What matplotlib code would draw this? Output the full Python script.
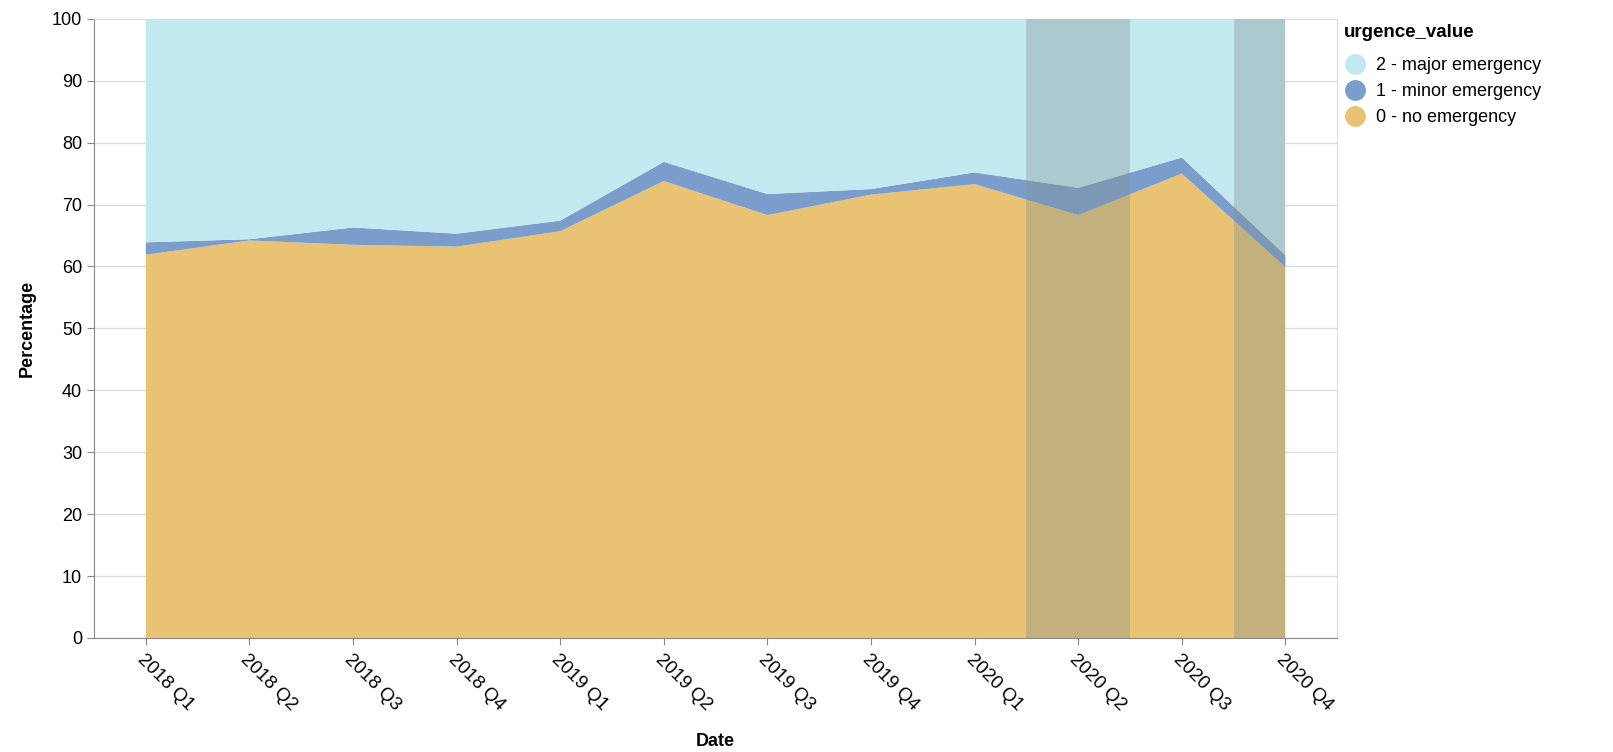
#!/usr/bin/env python
# -*- coding: utf-8 -*-

"""Stacked share of emergency levels per quarter."""

import matplotlib.pyplot as plt
from matplotlib.lines import Line2D

quarters = ["2018 Q1", "2018 Q2", "2018 Q3", "2018 Q4",
            "2019 Q1", "2019 Q2", "2019 Q3", "2019 Q4",
            "2020 Q1", "2020 Q2", "2020 Q3", "2020 Q4"]
no_emergency = [61.9, 64.2, 63.5, 63.2, 65.7, 73.8, 68.3, 71.6, 73.3, 68.3, 75.0, 59.9]
minor_emergency = [2.0, 0.2, 2.8, 2.1, 1.7, 3.1, 3.4, 0.9, 1.9, 4.4, 2.6, 1.9]
major_emergency = [100 - a - b for a, b in zip(no_emergency, minor_emergency)]
shaded = [("2020 Q1", "2020 Q2"), ("2020 Q3", "2020 Q4")]

labels = ["2 - major emergency", "1 - minor emergency", "0 - no emergency"]
colors = ["#c3e9f0", "#7b9dcc", "#e9c373"]


def main():
    plt.rcParams["font.family"] = ["Liberation Sans", "DejaVu Sans"]
    fig = plt.figure(figsize=(16.13, 7.52), dpi=100)
    ax = fig.add_axes([0.0583, 0.1516, 0.7707, 0.8234])

    x = list(range(len(quarters)))
    ax.stackplot(x, no_emergency, minor_emergency, major_emergency,
                 colors=colors[::-1], linewidth=0, zorder=2)

    last = len(quarters) - 1
    for a, b in shaded:
        x0 = quarters.index(a) + 0.5
        x1 = min(quarters.index(b) + 0.5, last)
        ax.axvspan(x0, x1, color="#7f8f8f", alpha=0.35, lw=0, zorder=3)

    ax.set_xlim(-0.5, len(quarters) - 0.5)
    ax.set_ylim(0, 100)
    ax.set_yticks(range(0, 101, 10))
    ax.set_xticks(x)
    ax.set_xticklabels(quarters, rotation=-45, ha="left", va="top",
                       rotation_mode="anchor", fontsize=13.5)
    ax.tick_params(axis="y", labelsize=13, length=5, color="#888888")
    ax.tick_params(axis="x", length=5, color="#888888", pad=4)
    ax.grid(axis="y", color="#dddddd", lw=1, zorder=1)
    ax.set_axisbelow(True)

    for side in ("top", "right"):
        ax.spines[side].set_color("#dddddd")
    for side in ("left", "bottom"):
        ax.spines[side].set_color("#888888")

    ax.set_xlabel("Date", fontsize=13, fontweight="bold", labelpad=14)
    ax.set_ylabel("Percentage", fontsize=13, fontweight="bold", labelpad=12)

    handles = [Line2D([], [], ls="", marker="o", ms=14, color=c) for c in colors]
    leg = fig.legend(handles, labels, loc="upper left",
                     bbox_to_anchor=(0.823, 0.99), frameon=False,
                     fontsize=13, title="urgence_value",
                     title_fontproperties={"weight": "bold", "size": 13.5},
                     alignment="left", handletextpad=0.6, handlelength=1.2,
                     labelspacing=0.5, borderaxespad=0.5)
    leg._legend_box.align = "left"
    leg._legend_box.sep = 12

    fig.savefig("out.png", dpi=100)
    plt.close()


if __name__ == "__main__":
    main()
